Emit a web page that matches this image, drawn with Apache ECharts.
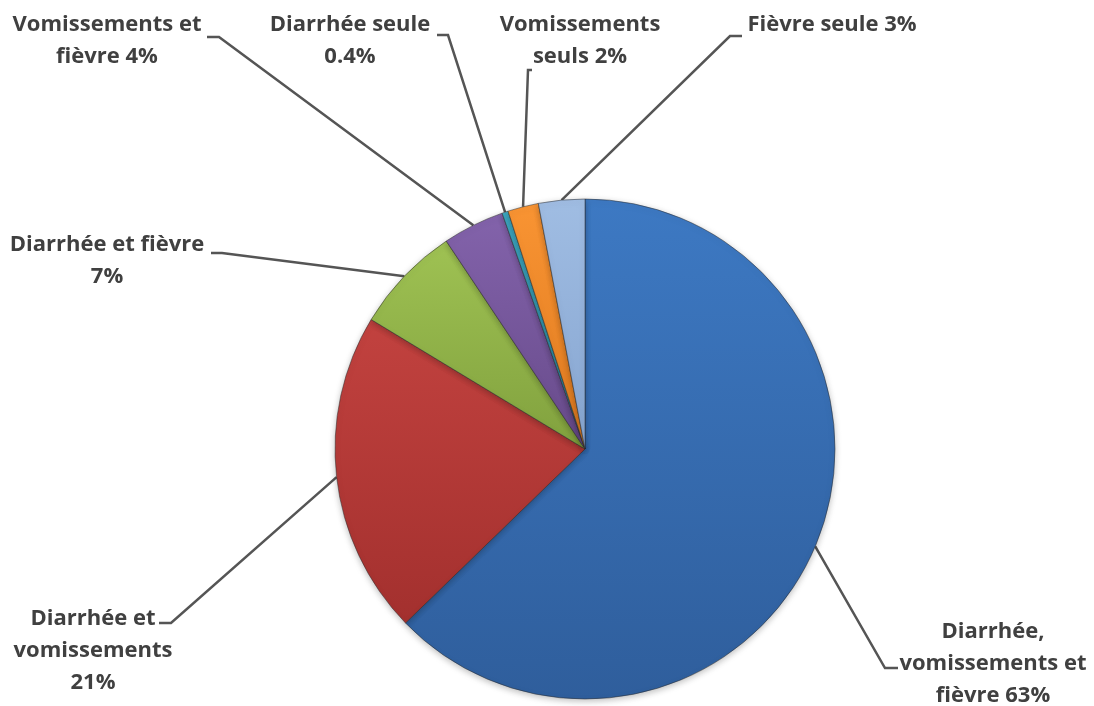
<!DOCTYPE html>
<html>
<head>
<meta charset="utf-8">
<script src="https://cdn.jsdelivr.net/npm/echarts@6/dist/echarts.min.js"></script>
<style>
html,body{margin:0;padding:0;background:#fff;}
#chart{width:1094px;height:706px;}
</style>
</head>
<body>
<div id="chart"></div>
<script>
// Data
const categories = [
  'Diarrhée, vomissements et fièvre',
  'Diarrhée et vomissements',
  'Diarrhée et fièvre',
  'Vomissements et fièvre',
  'Diarrhée seule',
  'Vomissements seuls',
  'Fièvre seule'
];
const values = [63, 21, 7, 4, 0.4, 2, 3];
const labelTexts = [
  'Diarrhée,\nvomissements et\nfièvre 63%',
  'Diarrhée et\nvomissements\n21%',
  'Diarrhée et fièvre\n7%',
  'Vomissements et\nfièvre 4%',
  'Diarrhée seule\n0.4%',
  'Vomissements\nseuls 2%',
  'Fièvre seule 3%'
];

// Styling / layout (not data)
const colorPairs = [
  ['#3d79c3', '#2f5e9c'],
  ['#c2423f', '#a3302e'],
  ['#9fc253', '#81a13e'],
  ['#8363ab', '#674a8a'],
  ['#3ea9c3', '#2a87a0'],
  ['#f99433', '#de7a1f'],
  ['#a0bde3', '#86a5d0']
];
// label centre positions (layout)
const labelCenters = [
  [993, 664],
  [93, 651],
  [107, 261],
  [107, 41],
  [350, 41],
  [580, 41],
  [832, 25]
];
// leader-line hook: [elbow x, elbow y, end x, end y] (layout)
const labelHooks = [
  [885, 668, 898, 668],
  [171, 623, 159, 623],
  [222, 253, 211, 253],
  [219, 37, 207, 37],
  [448, 35, 437, 35],
  [528, 70, 532, 70],
  [730, 36, 742, 36]
];

const chart = echarts.init(document.getElementById('chart'));
const data = categories.map((c, i) => ({
  name: c,
  value: values[i],
  label: { formatter: labelTexts[i] },
  itemStyle: {
    color: {
      type: 'linear', x: 0, y: 0, x2: 0, y2: 1,
      colorStops: [
        { offset: 0, color: colorPairs[i][0] },
        { offset: 1, color: colorPairs[i][1] }
      ]
    }
  }
}));

chart.setOption({
  backgroundColor: '#ffffff',
  animation: false,
  series: [{
    type: 'pie',
    center: [585, 449],
    radius: 250,
    startAngle: 90,
    clockwise: true,
    data: data,
    itemStyle: {
      borderColor: 'rgba(40,40,40,0.5)',
      borderWidth: 1,
      shadowBlur: 6,
      shadowColor: 'rgba(0,0,0,0.25)',
      shadowOffsetY: 2
    },
    label: {
      show: true,
      position: 'outside',
      color: '#404040',
      fontFamily: 'Open Sans',
      fontWeight: 'bold',
      fontSize: 22,
      lineHeight: 32,
      align: 'center'
    },
    labelLine: {
      show: true,
      length: 20,
      length2: 12,
      lineStyle: { color: '#555555', width: 2.5 }
    },
    labelLayout: function (params) {
      const i = params.dataIndex;
      const p = labelCenters[i];
      const h = labelHooks[i];
      const start = params.labelLinePoints ? params.labelLinePoints[0] : null;
      const out = {
        x: p[0],
        y: p[1],
        align: 'center',
        verticalAlign: 'middle'
      };
      if (start) {
        out.labelLinePoints = [
          [start[0], start[1]],
          [h[0], h[1]],
          [h[2], h[3]]
        ];
      }
      return out;
    }
  }]
});
</script>
</body>
</html>
